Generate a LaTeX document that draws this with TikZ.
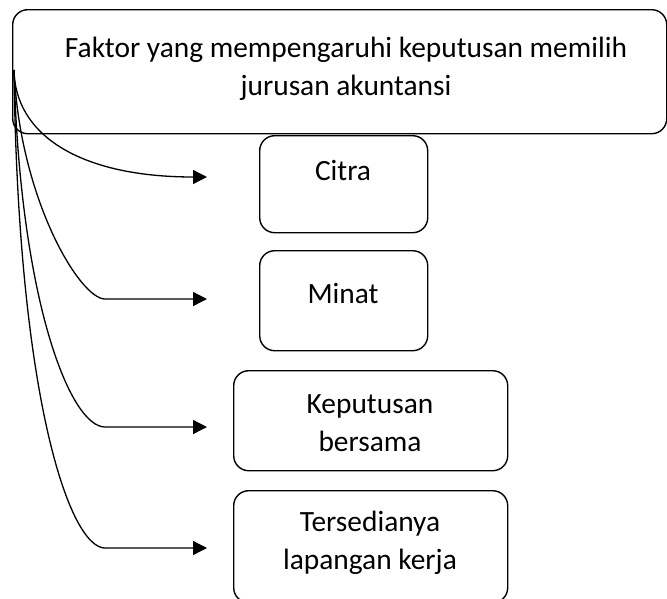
\documentclass[tikz,border=0pt]{standalone}
\usepackage{fontspec}
\setmainfont{Carlito}
\usetikzlibrary{arrows.meta}
\begin{document}
\begin{tikzpicture}[x=1pt,y=-1pt,
  box/.style={draw, line width=1.4pt, rounded corners=15pt, inner sep=0pt, anchor=north west},
  txt/.style={align=center, inner sep=0pt, font=\fontsize{29.4}{38}\selectfont},
  conn/.style={line width=1.3pt, -{Triangle[length=14pt,width=14pt]}}]
\useasboundingbox (0,0) rectangle (667,598);
\begin{scope}
\clip (0,0) rectangle (667,598);
\node[box, minimum width=654pt, minimum height=124pt] (top) at (12,9) {};
\node[box, minimum width=168pt, minimum height=97pt] (b1) at (259,135) {};
\node[box, minimum width=168pt, minimum height=100pt] (b2) at (259,250) {};
\node[box, minimum width=274pt, minimum height=100pt] (b3) at (233,370) {};
\node[box, minimum width=274pt, minimum height=112pt] (b4) at (233,490) {};
\end{scope}
\node[txt] (ttop) at (346,69) {Faktor yang mempengaruhi keputusan memilih\\jurusan akuntansi};
\node[txt] (t1) at (343,170) {Citra};
\node[txt] (t2) at (343,293) {Minat};
\node[txt] (t3) at (370,423) {Keputusan\\bersama};
\node[txt] (t4) at (370,543) {Tersedianya\\lapangan kerja};
\coordinate (s) at (14,70);
\coordinate (a1) at (207,177);
\coordinate (a2) at (207,299);
\coordinate (a3) at (207,427);
\coordinate (a4) at (207,548);
\draw[conn] (s) .. controls (15,135) and (80,177) .. (a1);
\draw[conn] (s) .. controls (20,200) and (80,299) .. (105,299) -- (a2);
\draw[conn] (s) .. controls (20,300) and (70,427) .. (105,427) -- (a3);
\draw[conn] (s) .. controls (18,400) and (70,548) .. (105,548) -- (a4);
\end{tikzpicture}
\end{document}
